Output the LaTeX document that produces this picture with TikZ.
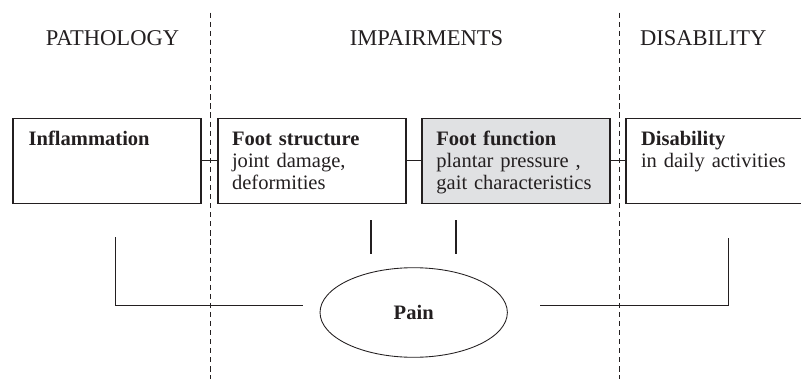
\documentclass[tikz,border=0pt]{standalone}
\usepackage{fontspec}
\setmainfont{Liberation Serif}
\usetikzlibrary{positioning}
\usetikzlibrary{shapes.geometric}
\definecolor{ink}{HTML}{231F20}
\definecolor{boxfill}{HTML}{E0E1E3}
\tikzset{box/.style = {draw, line width=0.8pt, minimum width=141pt, minimum height=63.75pt, inner sep=0}}
\tikzset{boxtext/.style = {anchor=base west, inner sep=0, text width=135pt, align=left,
                           font=\fontsize{15.4}{16.5}\selectfont}}
\tikzset{head/.style = {anchor=base, inner sep=0, font=\fontsize{16.9}{20}\selectfont}}
\tikzset{divider/.style = {line width=0.7pt, dash pattern=on 3.9pt off 2.9pt}}
\tikzset{link/.style = {line width=0.8pt}}
\tikzset{painnode/.style = {draw, ellipse, line width=0.65pt, minimum width=140.5pt, minimum height=67.2pt,
                            inner sep=0, font=\fontsize{15.4}{16.5}\selectfont\bfseries}}

\begin{document}
\begin{tikzpicture}[x=0.75pt, y=-0.75pt, color=ink]
    \useasboundingbox (0,0) rectangle (801,379);
    \clip (0,0) rectangle (801,379);

    \node [head] (pathology) at (112.5, 45) {PATHOLOGY};
    \node [head] (impairments) at (426.5, 45) {IMPAIRMENTS};
    \node [head] (disability) at (703.3, 45) {DISABILITY};

    \draw [divider] (210.7, 12.7) -- (210.7, 379);
    \draw [divider] (619, 12.7) -- (619, 379);

    \node [box] (infl) at (107, 160.8) {};
    \node [box] (fstruct) at (312, 160.8) {};
    \node [box, fill=boxfill] (ffunc) at (516, 160.8) {};
    \node [box] (disab) at (720, 160.8) {};

    \node [boxtext] (infltext) at ([shift={(16, 27.7)}]infl.north west) {\textbf{Inflammation}};
    \node [boxtext] (fstructtext) at ([shift={(14.3, 27.7)}]fstruct.north west)
        {\textbf{Foot structure}\\joint damage,\\deformities};
    \node [boxtext] (ffunctext) at ([shift={(14.7, 27.7)}]ffunc.north west)
        {\textbf{Foot function}\\plantar pressure ,\\gait characteristics};
    \node [boxtext] (disabtext) at ([shift={(15.3, 27.4)}]disab.north west)
        {\textbf{Disability}\\in daily activities};

    \draw [link] (infl) -- (fstruct);
    \draw [link] (fstruct) -- (ffunc);
    \draw [link] (ffunc) -- (disab);

    \node [painnode] (pain) at (413.7, 312.5) {Pain};

    \coordinate (fstop) at (371, 220);
    \coordinate (fsbot) at (371, 254.3);
    \coordinate (fftop) at (456, 220);
    \coordinate (ffbot) at (456, 254.3);
    \draw [link] (fstop) -- (fsbot);
    \draw [link] (fftop) -- (ffbot);

    \coordinate (influp) at (115.7, 237.3);
    \coordinate (painleft) at (303, 305.7);
    \coordinate (painright) at (540, 305.7);
    \coordinate (disabup) at (728.7, 237.7);
    \draw [link] (influp) |- (painleft);
    \draw [link] (painright) -| (disabup);
  \end{tikzpicture}
\end{document}
